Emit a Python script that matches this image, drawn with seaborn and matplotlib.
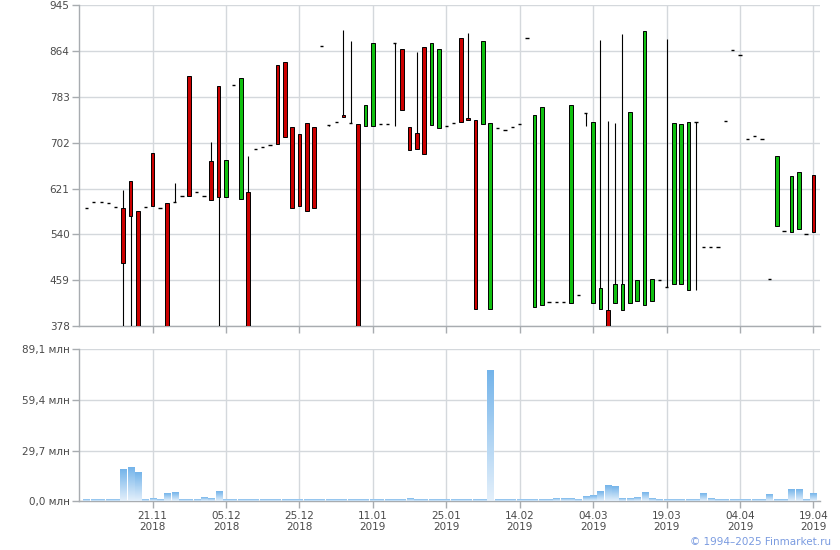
import numpy as np
import pandas as pd
import matplotlib
matplotlib.use("Agg")
import matplotlib.pyplot as plt
import seaborn as sns
from matplotlib.colors import LinearSegmentedColormap

# ---------------- data ----------------
tick_pos = [9, 19, 29, 39, 49, 59, 69, 79, 89, 99]
tick_labels = ["21.11\n2018", "05.12\n2018", "25.12\n2018", "11.01\n2019", "25.01\n2019",
               "14.02\n2019", "04.03\n2019", "19.03\n2019", "04.04\n2019", "19.04\n2019"]

price_ticks = [378, 459, 540, 621, 702, 783, 864, 945]
vol_ticks = [0.0, 29.7, 59.4, 89.1]
vol_tick_labels = ["0,0 млн", "29,7 млн", "59,4 млн", "89,1 млн"]

open_ = [587.5, 597, 597, 595, 589, 585.8, 635, 580.5, 589, 684.4,
         585.8, 596.3, 598, 607, 820, 614.5, 607, 670.3, 802.4, 606.3,
         804.1, 603.4, 615.7, 691.4, 693.8, 698.5, 839.3, 844.6, 730.2, 717.8,
         737.2, 730.2, 872.8, 732.5, 739, 751.3, 736.6, 735.4, 731.9, 731.9,
         735.4, 735.4, 878.1, 867.5, 730.2, 719.6, 871, 733.7, 727.8, 731.3,
         737.2, 886.9, 746.6, 742.5, 735.4, 407.9, 728.4, 724.9, 730.2, 735.4,
         886.9, 411.4, 415, 420.2, 420.2, 420.2, 418.5, 433.1, 754.8, 418.5,
         408, 406.2, 419, 406.2, 419, 422.6, 415, 422.6, 459.6, 446.6,
         452.5, 452.5, 441.4, 738.4, 517, 517, 517, 740.7, 865.8, 857,
         709, 714.3, 709, 460.7, 554, 545.3, 543.5, 548.8, 540, 645.6]
high = [587.5, 597, 597, 595, 589, 618, 635, 580.5, 589, 684.4,
        585.8, 596.3, 631.5, 607, 820, 614.5, 607, 703.7, 802.4, 672,
        804.1, 816.4, 679, 691.4, 693.8, 698.5, 839.3, 844.6, 730.2, 717.8,
        737.2, 730.2, 872.8, 734, 739, 901, 881.6, 735.4, 768.9, 878.1,
        735.4, 735.4, 878.1, 867.5, 730.2, 862.2, 871, 878.1, 867.5, 731.3,
        737.2, 886.9, 895.7, 742.5, 881.6, 737.2, 728.4, 724.9, 730.2, 735.4,
        886.9, 751.3, 765, 420.2, 420.2, 420.2, 768.9, 433.1, 754.8, 739,
        883.4, 740.7, 737.2, 894.5, 757.2, 459.6, 899.2, 461.3, 459.6, 885.1,
        737.2, 735.4, 739, 739.5, 517, 517, 517, 740.7, 865.8, 857,
        709, 714.3, 709, 460.7, 679, 545.3, 643.9, 650.9, 540, 645.6]
low = [587.5, 597, 597, 595, 589, 350, 350, 350, 589, 589.3,
       585.8, 350, 598, 607, 607, 614.5, 607, 601.6, 350, 606.3,
       804.1, 603.4, 350, 691.4, 693.8, 698.5, 700, 712.5, 587.5, 589.3,
       580.5, 587.5, 872.8, 731, 739, 747.2, 736.6, 350, 731.9, 731.9,
       735.4, 735.4, 731.3, 760.1, 689.7, 691.4, 682, 733.7, 727.8, 731.3,
       737.2, 739, 742.5, 407.9, 735.4, 407.9, 728.4, 724.9, 730.2, 735.4,
       886.9, 411.4, 415, 420.2, 420.2, 420.2, 418.5, 433.1, 731.3, 418.5,
       408, 350, 419, 406.2, 419, 422.6, 415, 422.6, 459.6, 446.6,
       452.5, 452.5, 441.4, 441.4, 517, 517, 517, 740.7, 865.8, 857,
       709, 714.3, 709, 460.7, 554, 545.3, 543.5, 548.8, 540, 543.5]
close = [587.5, 597, 597, 595, 589, 489, 571.7, 355, 589, 589.3,
         585.8, 355, 598, 607, 607, 614.5, 607, 601.6, 606.3, 672,
         804.1, 816.4, 355, 691.4, 693.8, 698.5, 700, 712.5, 587.5, 589.3,
         580.5, 587.5, 872.8, 732.5, 739, 747.2, 736.6, 355, 768.9, 878.1,
         735.4, 735.4, 878.1, 760.1, 689.7, 691.4, 682, 878.1, 867.5, 731.3,
         737.2, 739, 742.5, 407.9, 881.6, 737.2, 728.4, 724.9, 730.2, 735.4,
         886.9, 751.3, 765, 420.2, 420.2, 420.2, 768.9, 433.1, 754.8, 739,
         444.9, 355, 452.5, 452.5, 757.2, 459.6, 899.2, 461.3, 459.6, 446.6,
         737.2, 735.4, 739, 738.4, 517, 517, 517, 740.7, 865.8, 857,
         709, 714.3, 709, 460.7, 679, 545.3, 643.9, 650.9, 540, 543.5]
volume = [0.7, 0.7, 0.7, 0.7, 0.7, 18.3, 19.5, 16.6, 0.7, 1.4,
          0.7, 4.3, 4.9, 0.7, 0.7, 0.7, 2.1, 1.4, 5.5, 0.7,
          0.7, 0.7, 0.7, 0.7, 0.7, 0.7, 0.7, 0.7, 0.7, 0.7,
          0.7, 0.7, 0.7, 0.7, 0.7, 0.7, 0.7, 0.7, 0.7, 0.7,
          0.7, 0.7, 0.7, 0.7, 1.4, 0.7, 0.7, 0.7, 0.7, 0.7,
          0.7, 0.7, 0.7, 0.7, 0.7, 76.3, 0.7, 0.7, 0.7, 0.7,
          0.7, 0.7, 0.7, 0.7, 1.4, 1.4, 1.4, 0.7, 2.7, 3.3,
          5.7, 9.0, 8.6, 1.4, 1.4, 2.1, 4.9, 1.4, 0.7, 0.7,
          0.7, 0.7, 0.7, 0.7, 4.3, 1.4, 0.7, 0.7, 0.7, 0.7,
          0.7, 0.7, 0.7, 3.7, 0.7, 0.7, 6.6, 6.6, 0.7, 4.3]

# ---------------- style ----------------
sns.set_theme(style="white")
plt.rcParams['font.family'] = ['DejaVu Sans']

GRID = '#d4d8dc'
SPINE = '#a8acb0'
TXT = '#4a4a4a'
RED = '#cc0000'
GREEN = '#10c010'

df = pd.DataFrame({"idx": np.arange(len(open_)), "open": open_, "high": high,
                   "low": low, "close": close, "volume": volume})

fig = plt.figure(figsize=(8.4, 5.5), dpi=100)
ax1 = fig.add_axes([79.3 / 840, 1 - 326 / 550, (820 - 79.3) / 840, (326 - 5.3) / 550])
ax2 = fig.add_axes([79.3 / 840, 1 - 501.3 / 550, (820 - 79.3) / 840, (501.3 - 349) / 550])

XL = (-0.98, 99.9)

# ---------------- candles ----------------
x = df["idx"].to_numpy()
o = df["open"].to_numpy(); c = df["close"].to_numpy()
h = df["high"].to_numpy(); l = df["low"].to_numpy()

wick = h - l > 0.5
ax1.vlines(x[wick], l[wick], h[wick], color='black', lw=0.8, zorder=3)
body = np.abs(o - c) > 0.5
cols = np.where(c > o, GREEN, RED)
ax1.bar(x[body], np.abs(o - c)[body], bottom=np.minimum(o, c)[body], width=0.5,
        color=cols[body], edgecolor='black', linewidth=0.7, zorder=4)
doji = ~body
ax1.hlines(o[doji], x[doji] - 0.22, x[doji] + 0.22, color='black', lw=1.0, zorder=4)

ax1.set_xlim(*XL)
ax1.set_ylim(378, 945)
ax1.set_yticks(price_ticks)
ax1.set_yticklabels([str(t) for t in price_ticks])
ax1.set_xticks(tick_pos)
ax1.set_xticklabels([])

# ---------------- volume ----------------
sns.barplot(data=df, x="idx", y="volume", ax=ax2, width=0.82, color='#a9d1f4',
            saturation=1, zorder=3)
cmap = LinearSegmentedColormap.from_list('v', ['#e4f0fb', '#74b4ea'])
grad = np.linspace(1, 0, 128).reshape(-1, 1)
for p in list(ax2.patches):
    x0, w, hh = p.get_x(), p.get_width(), p.get_height()
    if hh <= 0:
        continue
    ax2.imshow(grad, cmap=cmap, vmin=0, vmax=1, extent=[x0, x0 + w, 0, hh],
               origin='upper', aspect='auto', zorder=3.5, interpolation='bicubic')
ax2.set_xlim(*XL)
ax2.set_ylim(0, 89.1)
ax2.set_yticks(vol_ticks)
ax2.set_yticklabels(vol_tick_labels)
ax2.set_xticks(tick_pos)
ax2.set_xticklabels(tick_labels, linespacing=1.15)
ax2.set_xlabel("")
ax2.set_ylabel("")

for ax in (ax1, ax2):
    ax.grid(True, color=GRID, lw=1.0, zorder=0)
    ax.set_axisbelow(True)
    for s in ('top', 'right'):
        ax.spines[s].set_visible(False)
    for s in ('left', 'bottom'):
        ax.spines[s].set_color(SPINE)
        ax.spines[s].set_linewidth(1.0)
    ax.tick_params(axis='both', colors=SPINE, labelcolor=TXT, labelsize=7.5,
                   length=5, width=1.0, left=True, bottom=True, pad=2)
    ax.set_facecolor('white')

fig.text(831 / 840, 1 - 542 / 550, "© 1994–2025 Finmarket.ru", ha='right', va='center',
         fontsize=7.5, color='#7a9be0')

fig.savefig("out.png", dpi=100, facecolor='white')
